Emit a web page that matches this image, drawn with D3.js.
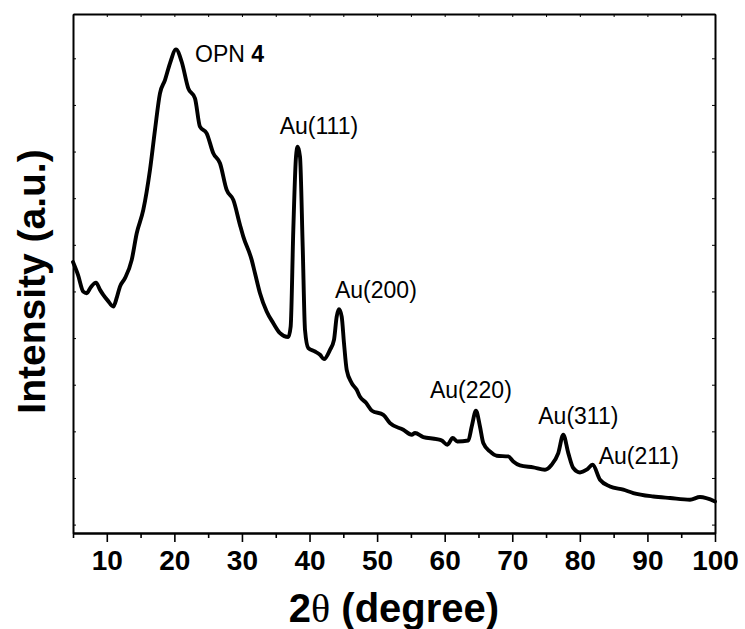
<!DOCTYPE html>
<html>
<head>
<meta charset="utf-8">
<script src="https://cdn.jsdelivr.net/npm/d3@7"></script>
<style>
  html, body { margin: 0; padding: 0; background: #fff; }
  svg { display: block; }
  text { font-family: Arial, "Liberation Sans", sans-serif; fill: #000; }
</style>
</head>
<body>
<svg id="chart" width="745" height="629"></svg>
<script>
// XRD pattern: 2-theta (degrees) and intensity (counts, arbitrary units)
const twoTheta = [
  5.0, 5.74, 6.52, 7.03, 7.66, 8.40, 9.0, 9.48, 10.18, 10.96,
  11.51, 11.95, 12.69, 13.69, 14.43, 15.40, 16.39, 17.13, 17.87, 18.61,
  19.35, 20.24, 21.08, 22.06, 23.05, 23.79, 24.78, 25.76, 26.75, 27.74,
  28.72, 29.71, 30.20, 31.44, 31.93, 32.67, 33.66, 34.64, 35.63, 36.86,
  37.21, 37.60, 38.0, 38.25, 38.59, 38.99, 39.33, 39.82, 40.81, 41.55,
  42.14, 43.03, 43.62, 44.02, 44.36, 44.76, 45.10, 45.50, 46.24, 46.98,
  47.47, 48.36, 49.24, 50.92, 51.91, 53.88, 55.12, 55.61, 56.84, 58.82,
  59.56, 60.39, 61.19, 61.87, 63.49, 64.0, 64.63, 65.22, 65.71, 66.70,
  67.70, 69.41, 70.15, 71.14, 73.11, 74.84, 75.83, 76.81, 77.55, 78.29,
  79.03, 80.02, 81.01, 81.90, 82.98, 84.46, 86.43, 87.91, 90.87, 93.34,
  96.30, 97.78, 100.0
];
const intensity = [
  6630, 6355, 5997, 5963, 6098, 6190, 6034, 5927, 5798, 5676,
  5884, 6105, 6285, 6677, 7249, 7748, 8606, 9463, 10249, 10534,
  10892, 11192, 10926, 10356, 10142, 9533, 9392, 8963, 8749, 8177,
  7963, 7427, 7176, 6677, 6392, 5963, 5569, 5320, 5106, 5020,
  5247, 7320, 8891, 9105, 8891, 6962, 5177, 4785, 4712, 4641,
  4549, 4748, 4962, 5462, 5620, 5462, 4892, 4320, 4035, 3891,
  3741, 3612, 3441, 3355, 3177, 3034, 2927, 2963, 2877, 2834,
  2804, 2712, 2856, 2783, 2804, 3104, 3441, 3104, 2749, 2569,
  2477, 2462, 2354, 2269, 2226, 2177, 2284, 2534, 2927, 2534,
  2213, 2119, 2177, 2284, 1962, 1819, 1748, 1677, 1604, 1570,
  1534, 1591, 1497
];

// Axis ticks
const xMajorTicks = [10, 20, 30, 40, 50, 60, 70, 80, 90, 100];
const xMinorTicks = [5, 15, 25, 35, 45, 55, 65, 75, 85, 95];
const yTicks = [1000, 2000, 3000, 4000, 5000, 6000, 7000, 8000, 9000, 10000, 11000];

// Peak annotations
const peakLabels = ["Au(111)", "Au(200)", "Au(220)", "Au(311)", "Au(211)"];
const peakAt = [38.25, 44.36, 64.63, 77.55, 81.90];

const svg = d3.select("#chart");
const plotL = 73, plotR = 715, plotT = 14, plotB = 533;

const x = d3.scaleLinear().domain([5, 100]).range([plotL, plotR]);
const y = d3.scaleLinear().domain([820, 11950]).range([plotB, plotT]);

const data = twoTheta.map((t, i) => ({ t, v: intensity[i] }));

// Frame axes
function styleAxis(g) {
  g.selectAll("path.domain").attr("stroke", "#000").attr("stroke-width", 2);
  g.selectAll(".tick line").attr("stroke", "#000").attr("stroke-width", 1.6);
}

// Bottom: major ticks with labels
const gBottom = svg.append("g").attr("transform", `translate(0,${plotB})`)
  .call(d3.axisBottom(x).tickValues(xMajorTicks).tickSize(9).tickPadding(8).tickSizeOuter(0));
styleAxis(gBottom);
gBottom.selectAll("text")
  .attr("font-size", 28).attr("font-weight", "bold")
  .attr("font-family", "Arial, 'Liberation Sans', sans-serif")
  .attr("fill", "#000");

// Bottom: minor ticks
const gBottomMinor = svg.append("g").attr("transform", `translate(0,${plotB})`)
  .call(d3.axisBottom(x).tickValues(xMinorTicks).tickSize(5).tickFormat("").tickSizeOuter(0));
styleAxis(gBottomMinor);

// Top: short inward ticks
const gTop = svg.append("g").attr("transform", `translate(0,${plotT})`)
  .call(d3.axisBottom(x).tickValues(xMajorTicks.concat(xMinorTicks)).tickSize(3).tickFormat("").tickSizeOuter(0));
styleAxis(gTop);
gTop.selectAll(".tick line").attr("stroke-width", 1);

// Left: short inward ticks, no labels
const gLeft = svg.append("g").attr("transform", `translate(${plotL},0)`)
  .call(d3.axisRight(y).tickValues(yTicks).tickSize(3).tickFormat("").tickSizeOuter(0));
styleAxis(gLeft);
gLeft.selectAll(".tick line").attr("stroke-width", 1);

// Right: short inward ticks
const gRight = svg.append("g").attr("transform", `translate(${plotR},0)`)
  .call(d3.axisLeft(y).tickValues(yTicks).tickSize(3).tickFormat("").tickSizeOuter(0));
styleAxis(gRight);
gRight.selectAll(".tick line").attr("stroke-width", 1);

// Pattern trace
const line = d3.line()
  .x(d => x(d.t))
  .y(d => y(d.v))
  .curve(d3.curveMonotoneX);

svg.append("path")
  .datum(data)
  .attr("fill", "none")
  .attr("stroke", "#000")
  .attr("stroke-width", 3.9)
  .attr("stroke-linejoin", "round")
  .attr("stroke-linecap", "round")
  .attr("d", line);

// Axis titles
const xTitle = svg.append("text")
  .attr("x", (plotL + plotR) / 2)
  .attr("y", 622)
  .attr("text-anchor", "middle")
  .attr("font-size", 40)
  .attr("font-weight", "bold");
xTitle.append("tspan").text("2");
xTitle.append("tspan").attr("font-family", "'Liberation Serif', 'DejaVu Serif', serif").attr("font-weight", "normal").text("θ");
xTitle.append("tspan").text(" (degree)");

svg.append("text")
  .attr("transform", `translate(45,${(plotT + plotB) / 2 + 8}) rotate(-90)`)
  .attr("text-anchor", "middle")
  .attr("font-size", 39)
  .attr("font-weight", "bold")
  .text("Intensity (a.u.)");

// Sample label
const opn = svg.append("text")
  .attr("x", 195).attr("y", 62)
  .attr("font-size", 23);
opn.append("tspan").text("OPN ");
opn.append("tspan").attr("font-weight", "bold").text("4");

// Peak labels, positioned relative to each reflection
const labelOffsets = [
  { dx: -18, dy: -13 },
  { dx: -4, dy: -11 },
  { dx: -46, dy: -13 },
  { dx: -25, dy: -11 },
  { dx: 6, dy: -1 }
];
peakLabels.forEach((lab, i) => {
  const t = peakAt[i];
  const v = intensity[twoTheta.indexOf(t)];
  svg.append("text")
    .attr("x", x(t) + labelOffsets[i].dx)
    .attr("y", y(v) + labelOffsets[i].dy)
    .attr("font-size", 23)
    .text(lab);
});
</script>
</body>
</html>
